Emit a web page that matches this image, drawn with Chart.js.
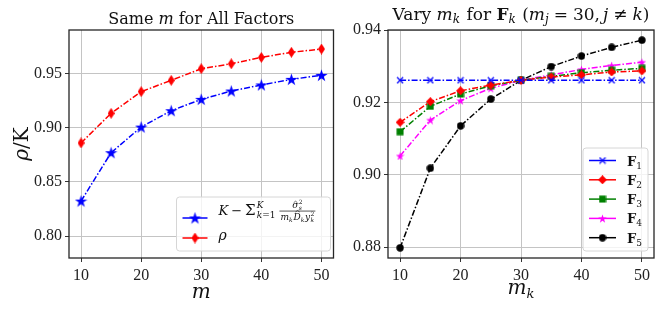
<!DOCTYPE html>
<html>
<head>
<meta charset="utf-8">
<script src="https://cdn.jsdelivr.net/npm/chart.js@4.4.0/dist/chart.umd.min.js"></script>
<style>
  body { margin: 0; background: #fff; width: 664px; height: 312px; overflow: hidden; position: relative; }
  canvas { position: absolute; top: 0; }
  #left { left: 0; }
  #right { left: 340px; }
</style>
</head>
<body>
<canvas id="left" width="340" height="312"></canvas>
<canvas id="right" width="324" height="312"></canvas>
<script>
// ---- data ----
const mValues = [10, 15, 20, 25, 30, 35, 40, 45, 50];
const boundValues = [0.8323, 0.8770, 0.9007, 0.9158, 0.9263, 0.9340, 0.9396, 0.9448, 0.9485];
const rhoValues = [0.8860, 0.9134, 0.9334, 0.9439, 0.9546, 0.9592, 0.9651, 0.9698, 0.9728];

const f1Values = [0.9261, 0.9261, 0.9261, 0.9261, 0.9261, 0.9261, 0.9261, 0.9261, 0.9261];
const f2Values = [0.9145, 0.9202, 0.9232, 0.9248, 0.9261, 0.9270, 0.9276, 0.9284, 0.9287];
const f3Values = [0.9119, 0.9189, 0.9223, 0.9246, 0.9261, 0.9272, 0.9282, 0.9289, 0.9294];
const f4Values = [0.9052, 0.9151, 0.9205, 0.9239, 0.9261, 0.9276, 0.9291, 0.9302, 0.9311];
const f5Values = [0.8798, 0.9018, 0.9135, 0.9209, 0.9261, 0.9299, 0.9328, 0.9352, 0.9372];

const xTicks = [10, 20, 30, 40, 50];
const leftYTicks = [0.80, 0.85, 0.90, 0.95];
const rightYTicks = [0.88, 0.90, 0.92, 0.94];

// ---- fonts / helpers ----
const TICKFONT = '"Liberation Serif", serif';
const SERIF = '"DejaVu Serif", "Liberation Serif", serif';
const rm = s => `${s}px ${SERIF}`;
const it = s => `italic ${s}px ${SERIF}`;
const bf = s => `bold ${s}px ${SERIF}`;
const DASHDOT = [6, 2, 1.5, 2];

function marker(w, h, draw) {
  const c = document.createElement('canvas');
  c.width = w; c.height = h;
  draw(c.getContext('2d'), w, h);
  return c;
}
function starMarker(color, size) {
  return marker(size, size, (g, w, h) => {
    const R = size / 2, r = R * 0.382, cx = w / 2, cy = h / 2 + 0.5;
    g.beginPath();
    for (let i = 0; i < 10; i++) {
      const a = -Math.PI / 2 + i * Math.PI / 5, rr = i % 2 ? r : R;
      g.lineTo(cx + rr * Math.cos(a), cy + rr * Math.sin(a));
    }
    g.closePath(); g.fillStyle = color; g.fill();
  });
}
function thinDiamond(color, w, h) {
  return marker(w, h, (g) => {
    g.beginPath(); g.moveTo(w / 2, 0); g.lineTo(w, h / 2); g.lineTo(w / 2, h); g.lineTo(0, h / 2);
    g.closePath(); g.fillStyle = color; g.fill();
  });
}
function squareMarker(color, s) {
  return marker(s, s, (g) => { g.fillStyle = color; g.fillRect(0.5, 0.5, s - 1, s - 1); });
}
function circleMarker(color, s) {
  return marker(s, s, (g) => { g.beginPath(); g.arc(s / 2, s / 2, s / 2 - 0.3, 0, Math.PI * 2); g.fillStyle = color; g.fill(); });
}
function xMarker(color, s) {
  return marker(s, s, (g) => {
    g.strokeStyle = color; g.lineWidth = 1.3;
    g.beginPath(); g.moveTo(1, 1); g.lineTo(s - 1, s - 1); g.moveTo(s - 1, 1); g.lineTo(1, s - 1); g.stroke();
  });
}

function toPoints(xs, ys) { return xs.map((x, i) => ({ x, y: ys[i] })); }

// tiny rich-text layout: plain runs, stacked sup/sub, fractions
function partWidth(ctx, p) {
  if (p.frac) return Math.max(richWidth(ctx, p.frac.num), richWidth(ctx, p.frac.den)) + 2;
  if (p.stack) return Math.max(richWidth(ctx, p.stack.sup), richWidth(ctx, p.stack.sub));
  ctx.font = p.f;
  return ctx.measureText(p.t).width;
}
function richWidth(ctx, parts) {
  return parts.reduce((w, p) => w + partWidth(ctx, p) + (p.sp || 0) + (p.pre || 0), 0);
}
function drawRich(ctx, parts, x, y, align) {
  let cx = align === 'center' ? x - richWidth(ctx, parts) / 2 : x;
  for (const p of parts) {
    cx += p.pre || 0;
    const pw = partWidth(ctx, p);
    if (p.frac) {
      ctx.fillRect(cx, y - 4.3, pw, 0.7);
      drawRich(ctx, p.frac.num, cx + pw / 2, y - 6.8, 'center');
      drawRich(ctx, p.frac.den, cx + pw / 2, y + 4.5, 'center');
    } else if (p.stack) {
      drawRich(ctx, p.stack.sup, cx, y - p.stack.up);
      drawRich(ctx, p.stack.sub, cx, y + p.stack.down);
    } else {
      ctx.font = p.f;
      const yy = y + (p.dy || 0);
      ctx.fillText(p.t, cx, yy);
      if (p.hat) {
        const top = yy - p.hat;
        ctx.save(); ctx.lineWidth = 0.6; ctx.strokeStyle = ctx.fillStyle;
        ctx.beginPath(); ctx.moveTo(cx + pw * 0.25, top + 1.5); ctx.lineTo(cx + pw * 0.55, top); ctx.lineTo(cx + pw * 0.85, top + 1.5); ctx.stroke();
        ctx.restore();
      }
    }
    cx += pw + (p.sp || 0);
  }
}

// ---- decoration plugin: frame, titles, axis labels, legend ----
const decor = {
  id: 'decor',
  afterDraw(chart, args, opts) {
    const ctx = chart.ctx, a = chart.chartArea;
    ctx.save();
    ctx.strokeStyle = '#262626'; ctx.lineWidth = 1.3;
    ctx.strokeRect(a.left, a.top, a.right - a.left, a.bottom - a.top);
    ctx.fillStyle = '#111'; ctx.textBaseline = 'alphabetic'; ctx.textAlign = 'left';
    const mid = (a.left + a.right) / 2;
    drawRich(ctx, opts.title, mid, opts.titleY, 'center');
    drawRich(ctx, opts.xlabel, mid, opts.xlabelY, 'center');
    if (opts.ylabel) {
      ctx.save(); ctx.translate(28, (a.top + a.bottom) / 2); ctx.rotate(-Math.PI / 2);
      drawRich(ctx, opts.ylabel, 0, 0, 'center');
      ctx.restore();
    }
    // legend
    const L = opts.legend;
    const bx = a.right - L.right - L.w, by = a.bottom - L.bottom - L.h;
    ctx.save();
    ctx.beginPath(); ctx.roundRect(bx, by, L.w, L.h, 3);
    ctx.fillStyle = 'rgba(255,255,255,0.8)'; ctx.fill();
    ctx.strokeStyle = '#d6d6d6'; ctx.lineWidth = 1; ctx.stroke();
    ctx.restore();
    L.rows.forEach((row, i) => {
      const ds = chart.data.datasets[i];
      const ry = by + row.y;
      ctx.save();
      ctx.strokeStyle = ds.borderColor; ctx.lineWidth = ds.borderWidth; ctx.setLineDash([]);
      ctx.beginPath(); ctx.moveTo(bx + L.lineX, ry); ctx.lineTo(bx + L.lineX + L.lineW, ry); ctx.stroke();
      const img = ds.pointStyle;
      ctx.drawImage(img, bx + L.lineX + L.lineW / 2 - img.width / 2, ry - img.height / 2);
      ctx.restore();
      ctx.fillStyle = '#111';
      drawRich(ctx, row.parts, bx + L.textX, ry + row.base);
    });
    ctx.restore();
  }
};

function axes(yMin, yMax, yTicks, yWidth) {
  return {
    x: {
      type: 'linear', min: 8, max: 52,
      afterBuildTicks: s => { s.ticks = xTicks.map(v => ({ value: v })); },
      afterFit: s => { s.height = 54; },
      grid: { color: '#c4c4c4', lineWidth: 1, tickLength: 4, tickColor: '#333' },
      border: { display: false },
      ticks: { color: '#222', font: { family: TICKFONT, size: 16 }, padding: 4, maxRotation: 0 }
    },
    y: {
      type: 'linear', min: yMin, max: yMax,
      afterBuildTicks: s => { s.ticks = yTicks.map(v => ({ value: v })); },
      afterFit: s => { s.width = yWidth; },
      grid: { color: '#c4c4c4', lineWidth: 1, tickLength: 4, tickColor: '#333' },
      border: { display: false },
      ticks: { color: '#222', font: { family: TICKFONT, size: 16 }, padding: 3, callback: v => v.toFixed(2) }
    }
  };
}

function series(label, ys, color, style) {
  return {
    label, data: toPoints(mValues, ys),
    borderColor: color, backgroundColor: color, borderWidth: 1.5, borderDash: DASHDOT,
    pointStyle: style, pointRadius: 5, pointHoverRadius: 5, fill: false, tension: 0
  };
}

// ---- left chart ----
const supSub = (sup, sub, size, up, down) => ({
  stack: { sup: [{ t: sup, f: rm(size) }], sub: [{ t: sub, f: it(size) }], up, down }
});
new Chart(document.getElementById('left'), {
  type: 'line',
  data: {
    datasets: [
      series('bound', boundValues, '#0000ff', starMarker('#0000ff', 13)),
      series('rho', rhoValues, '#ff0000', thinDiamond('#ff0000', 7, 11))
    ]
  },
  options: {
    responsive: false, animation: false, devicePixelRatio: 1,
    layout: { padding: { top: 30, right: 6, left: 0, bottom: 0 } },
    scales: axes(0.7797, 0.9904, leftYTicks, 69),
    plugins: {
      legend: { display: false }, tooltip: { enabled: false },
      decor: {
        title: [{ t: 'Same ', f: rm(16) }, { t: 'm', f: it(16) }, { t: ' for All Factors', f: rm(16) }],
        titleY: 24,
        xlabel: [{ t: 'm', f: it(20) }], xlabelY: 298,
        ylabel: [{ t: 'ρ', f: it(20) }, { t: '/K', f: rm(20) }],
        legend: {
          w: 154, h: 54, right: 3, bottom: 7, lineX: 6, lineW: 25, textX: 42,
          rows: [
            { y: 21, base: -3, parts: [
              { t: 'K', f: it(13) }, { t: '−', f: rm(13), pre: 3, sp: 3 }, { t: 'Σ', f: rm(15), sp: 1 },
              { stack: { sup: [{ t: 'K', f: it(9) }], sub: [{ t: 'k', f: it(9) }, { t: '=1', f: rm(9) }], up: 7, down: 3 }, sp: 4 },
              { frac: {
                num: [{ t: 'σ', f: it(9), hat: 7, sp: 0.5 }, supSub('2', 's', 6, 4, 2)],
                den: [{ t: 'm', f: it(9) }, { t: 'k', f: it(6), dy: 2, sp: 1 }, { t: 'D', f: it(9), hat: 9 },
                      { t: 'k', f: it(6), dy: 2, sp: 0.5 }, { t: 'y', f: it(9), sp: 0.5 }, supSub('2', 'k', 6, 4, 2)]
              } }
            ] },
            { y: 41, base: 2, parts: [{ t: 'ρ', f: it(14) }] }
          ]
        }
      }
    }
  },
  plugins: [decor]
});

// ---- right chart ----
const fSub = n => [{ t: 'F', f: bf(13) }, { t: String(n), f: rm(9), dy: 3 }];
new Chart(document.getElementById('right'), {
  type: 'line',
  data: {
    datasets: [
      series('F1', f1Values, '#0000ff', xMarker('#0000ff', 8)),
      series('F2', f2Values, '#ff0000', thinDiamond('#ff0000', 9, 9)),
      series('F3', f3Values, '#008000', squareMarker('#008000', 8)),
      series('F4', f4Values, '#ff00ff', starMarker('#ff00ff', 9)),
      series('F5', f5Values, '#000000', circleMarker('#000000', 8))
    ]
  },
  options: {
    responsive: false, animation: false, devicePixelRatio: 1,
    layout: { padding: { top: 30, right: 10, left: 0, bottom: 0 } },
    scales: axes(0.877, 0.94, rightYTicks, 48),
    plugins: {
      legend: { display: false }, tooltip: { enabled: false },
      decor: {
        title: [
          { t: 'Vary ', f: rm(17) }, { t: 'm', f: it(17) }, { t: 'k', f: it(12), dy: 3, sp: 1 }, { t: ' for ', f: rm(17) },
          { t: 'F', f: bf(17) }, { t: 'k', f: it(12), dy: 3, sp: 1 }, { t: ' (', f: rm(17) }, { t: 'm', f: it(17) },
          { t: 'j', f: it(12), dy: 3 }, { t: '=', f: rm(17), pre: 5, sp: 5 }, { t: '30,', f: rm(17), sp: 3 },
          { t: 'j', f: it(17) }, { t: '≠', f: rm(17), pre: 5, sp: 5 },
          { t: 'k', f: it(17) }, { t: ')', f: rm(17) }
        ],
        titleY: 20,
        xlabel: [{ t: 'm', f: it(20) }, { t: 'k', f: it(13), dy: 4 }], xlabelY: 294,
        legend: {
          w: 65, h: 103, right: 6, bottom: 7, lineX: 6, lineW: 27, textX: 44,
          rows: [1, 2, 3, 4, 5].map((n, i) => ({ y: 12.5 + i * 19.3, base: 5, parts: fSub(n) }))
        }
      }
    }
  },
  plugins: [decor]
});
</script>
</body>
</html>
